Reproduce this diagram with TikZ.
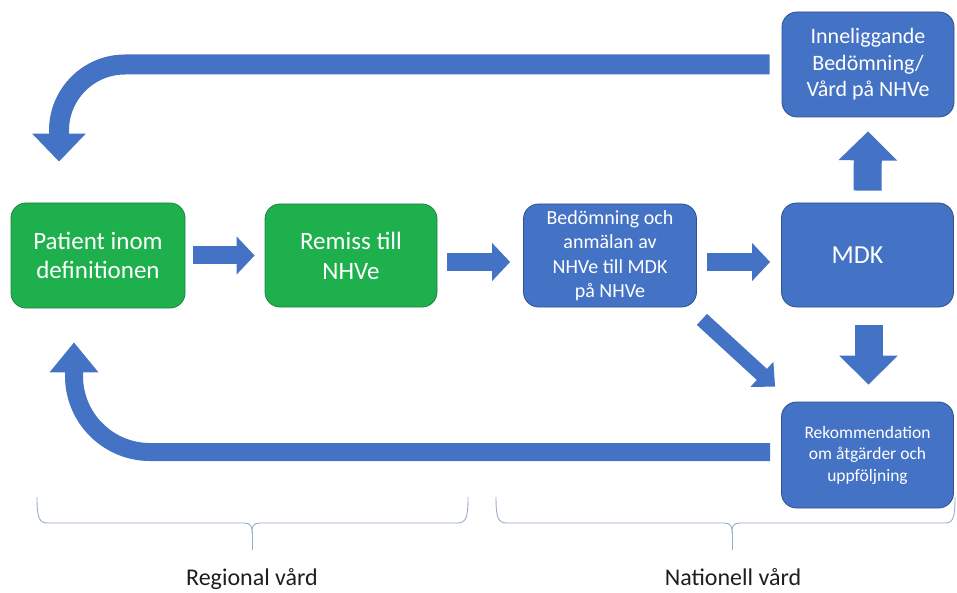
\documentclass[tikz,border=0pt]{standalone}
\usepackage{fontspec}
\setmainfont{Carlito}
\usetikzlibrary{arrows.meta,calc}
\definecolor{boxgreen}{RGB}{29,176,76}
\definecolor{greenedge}{RGB}{30,130,64}
\definecolor{boxblue}{RGB}{68,114,196}
\definecolor{blueedge}{RGB}{47,82,143}
\definecolor{bracec}{RGB}{150,172,204}
\definecolor{labelc}{RGB}{30,30,30}
\tikzset{
  card/.style={rounded corners=15pt, minimum width=#1, align=center, inner sep=0pt, text=white, line width=0.8pt},
  gbox/.style={card=174pt, fill=boxgreen, draw=greenedge, minimum height=105pt},
  bbox/.style={card=172pt, fill=boxblue, draw=blueedge, minimum height=104pt},
  barrow/.style={draw=boxblue, line width=18pt, -{Triangle[length=18pt,width=37pt]}},
  vbarrow/.style={draw=boxblue, line width=28pt, -{Triangle[length=29pt,width=57pt]}},
  darrow/.style={draw=boxblue, line width=15pt, -{Triangle[length=18pt,width=33pt]}},
  toparrow/.style={draw=boxblue, line width=20pt, rounded corners=66pt, -{Triangle[length=28pt,width=52pt]}},
  botarrow/.style={draw=boxblue, line width=18pt, rounded corners=76pt, -{Triangle[length=30pt,width=47pt]}},
  bracepath/.style={draw=bracec, line width=0.9pt},
  grouplabel/.style={text=labelc, font=\fontsize{24}{28}\selectfont, inner sep=0pt, anchor=base}
}
\begin{document}
\begin{tikzpicture}[x=1pt,y=-1pt]
\useasboundingbox (0,0) rectangle (957,593);
% boxes
\node[gbox, font=\fontsize{25}{29}\selectfont] (p1) at (98,255.5) {Patient inom\\definitionen};
\node[gbox, minimum width=172pt, minimum height=103pt, font=\fontsize{25}{30}\selectfont] (p2) at (351,255.5) {Remiss till\\NHVe};
\node[bbox, minimum width=173pt, minimum height=103pt, font=\fontsize{20}{24.5}\selectfont] (b3) at (610,255.5) {Bedömning och\\anmälan av\\NHVe till MDK\\på NHVe};
\node[bbox, font=\fontsize{26}{30}\selectfont] (mdk) at (867.5,255) {\hspace*{-20pt}MDK};
\node[bbox, minimum height=105pt, font=\fontsize{22}{26.5}\selectfont] (top) at (868,64.5) {Inneliggande\\Bedömning/\\Vård på NHVe};
\node[bbox, minimum height=106pt, font=\fontsize{17.5}{21.5}\selectfont] (rec) at (867.5,455) {Rekommendation\\om åtgärder och\\uppföljning};
% straight block arrows
\draw[barrow] ([xshift=8pt]p1.east) -- ([xshift=-10pt]p2.west);
\draw[barrow] ([xshift=10pt,yshift=-6.5pt]p2.east) -- ([xshift=-13pt,yshift=-6.5pt]b3.west);
\draw[barrow] ([xshift=10pt,yshift=-6.5pt]b3.east) -- ([xshift=-11pt,yshift=-7pt]mdk.west);
\draw[vbarrow] ([yshift=12pt]mdk.north) -- ([yshift=-14pt]top.south);
\draw[vbarrow] ([xshift=1pt,yshift=-18pt]mdk.south) -- ([xshift=1pt,yshift=17pt]rec.north);
\draw[darrow] ([xshift=5pt,yshift=-12pt]b3.south east) -- ([xshift=-6pt,yshift=15pt]rec.north west);
% curved return arrows
\draw[toparrow] ([xshift=-12pt]top.west) -| ([xshift=-39pt,yshift=41pt]p1.north);
\draw[botarrow] ([xshift=-11pt,yshift=3pt]rec.west) -| ([xshift=-24pt,yshift=-34pt]p1.south);
% braces
\draw[bracepath] (37,497) .. controls (37,518) and (39,523) .. (48,523) -- (244,523)
  .. controls (250,523) and (252,526) .. (252,531)
  .. controls (252,526) and (254,523) .. (260,523) -- (457,523)
  .. controls (466,523) and (468,518) .. (468,497);
\draw[bracepath] (252,531) -- (252,550);
\draw[bracepath] (496,497) .. controls (496,518) and (498,523) .. (507,523) -- (724,523)
  .. controls (730,523) and (732,526) .. (732,531)
  .. controls (732,526) and (734,523) .. (740,523) -- (945,523)
  .. controls (953,523) and (955,518) .. (955,497);
\draw[bracepath] (732,531) -- (732,550);
% labels
\node[grouplabel] (lreg) at (252,585) {Regional vård};
\node[grouplabel] (lnat) at (733,585) {Nationell vård};
\end{tikzpicture}
\end{document}
